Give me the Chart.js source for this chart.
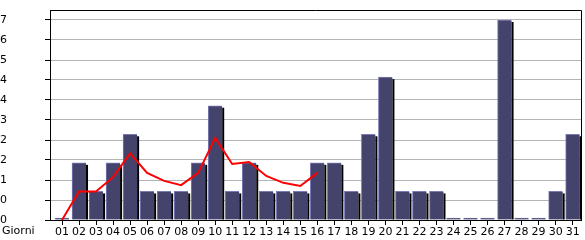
<!DOCTYPE html>
<html lang="it">
<head>
  <meta charset="UTF-8" />
  <title>Giorni</title>
  <script src="https://cdn.jsdelivr.net/npm/chart.js"></script>
  <style>
    html, body { margin: 0; padding: 0; background: #fff; }
    #wrap { width: 585px; height: 240px; }
  </style>
</head>
<body>
  <div id="wrap"><canvas id="chart" width="585" height="240"></canvas></div>

  <script>
    const days = ["01","02","03","04","05","06","07","08","09","10","11","12","13","14","15","16",
                  "17","18","19","20","21","22","23","24","25","26","27","28","29","30","31"];
    const visits = [0,2,1,2,3,1,1,1,2,4,1,2,1,1,1,2,2,1,3,5,1,1,1,0,0,0,7,0,0,1,3];
    const trend = [0,1.0,1.0,1.5,2.33,1.65,1.37,1.22,1.65,2.87,1.96,2.03,1.54,1.3,1.19,1.65];
    const yStep = 0.7;
    const yMax = 7.35;

    const font = { family: "DejaVu Sans", size: 11 };

    // black drop shadow on the right side of each bar
    const barShadow = {
      id: "barShadow",
      afterDatasetDraw(chart, args) {
        if (args.index !== 0) return;
        const ctx = chart.ctx;
        ctx.save();
        ctx.fillStyle = "#000";
        args.meta.data.forEach(bar => {
          const h = bar.base - bar.y - 2;
          if (h > 0) ctx.fillRect(bar.x + bar.width / 2, bar.y + 2, 2, h);
        });
        ctx.restore();
      }
    };

    // frame around plot + "Giorni" caption
    const frame = {
      id: "frame",
      afterDraw(chart) {
        const { ctx, chartArea: a } = chart;
        ctx.save();
        ctx.strokeStyle = "#000";
        ctx.lineWidth = 1;
        ctx.beginPath();
        ctx.moveTo(a.left, a.top + 0.5);
        ctx.lineTo(a.right + 0.5, a.top + 0.5);
        ctx.lineTo(a.right + 0.5, a.bottom);
        ctx.stroke();
        ctx.fillStyle = "#000";
        ctx.font = font.size + "px " + font.family;
        ctx.textBaseline = "top";
        ctx.fillText("Giorni", 2, a.bottom + 6);
        ctx.restore();
      }
    };

    new Chart(document.getElementById("chart"), {
      type: "bar",
      data: {
        datasets: [
          {
            type: "bar",
            order: 1,
            data: visits.map((v, i) => ({ x: i + 1, y: v })),
            backgroundColor: "#43436b",
            borderColor: "#7a7ab6",
            borderWidth: { left: 1, top: 1, right: 0, bottom: 0 },
            borderSkipped: false,
            barThickness: 14,
            minBarLength: 2
          },
          {
            type: "line",
            order: 0,
            data: trend.map((v, i) => ({ x: i + 1, y: v })),
            borderColor: "#ff0000",
            borderWidth: 2,
            pointRadius: 0,
            tension: 0,
            fill: false
          }
        ]
      },
      options: {
        responsive: false,
        animation: false,
        layout: { padding: { top: 10, right: 4, left: 0, bottom: 0 } },
        plugins: { legend: { display: false }, tooltip: { enabled: false } },
        scales: {
          x: {
            type: "linear",
            offset: false,
            min: 0.295,
            max: 31.49,
            ticks: {
              stepSize: 1,
              includeBounds: false,
              autoSkip: false,
              maxRotation: 0,
              padding: 1,
              color: "#000",
              font: font,
              callback: v => days[v - 1]
            },
            grid: { drawOnChartArea: false, offset: false, tickLength: 5, tickColor: "#000" },
            border: { color: "#000" },
            afterFit: s => { s.height = 20; }
          },
          y: {
            min: 0,
            max: yMax,
            ticks: {
              stepSize: yStep,
              includeBounds: false,
              crossAlign: "far",
              color: "#000",
              font: font,
              callback: v => String(Math.floor(v + 1e-6))
            },
            grid: { color: "#b4b4b4", tickLength: 5, tickColor: "#000" },
            border: { color: "#000" },
            afterFit: s => { s.width = 50; }
          }
        }
      },
      plugins: [barShadow, frame]
    });
  </script>
</body>
</html>
